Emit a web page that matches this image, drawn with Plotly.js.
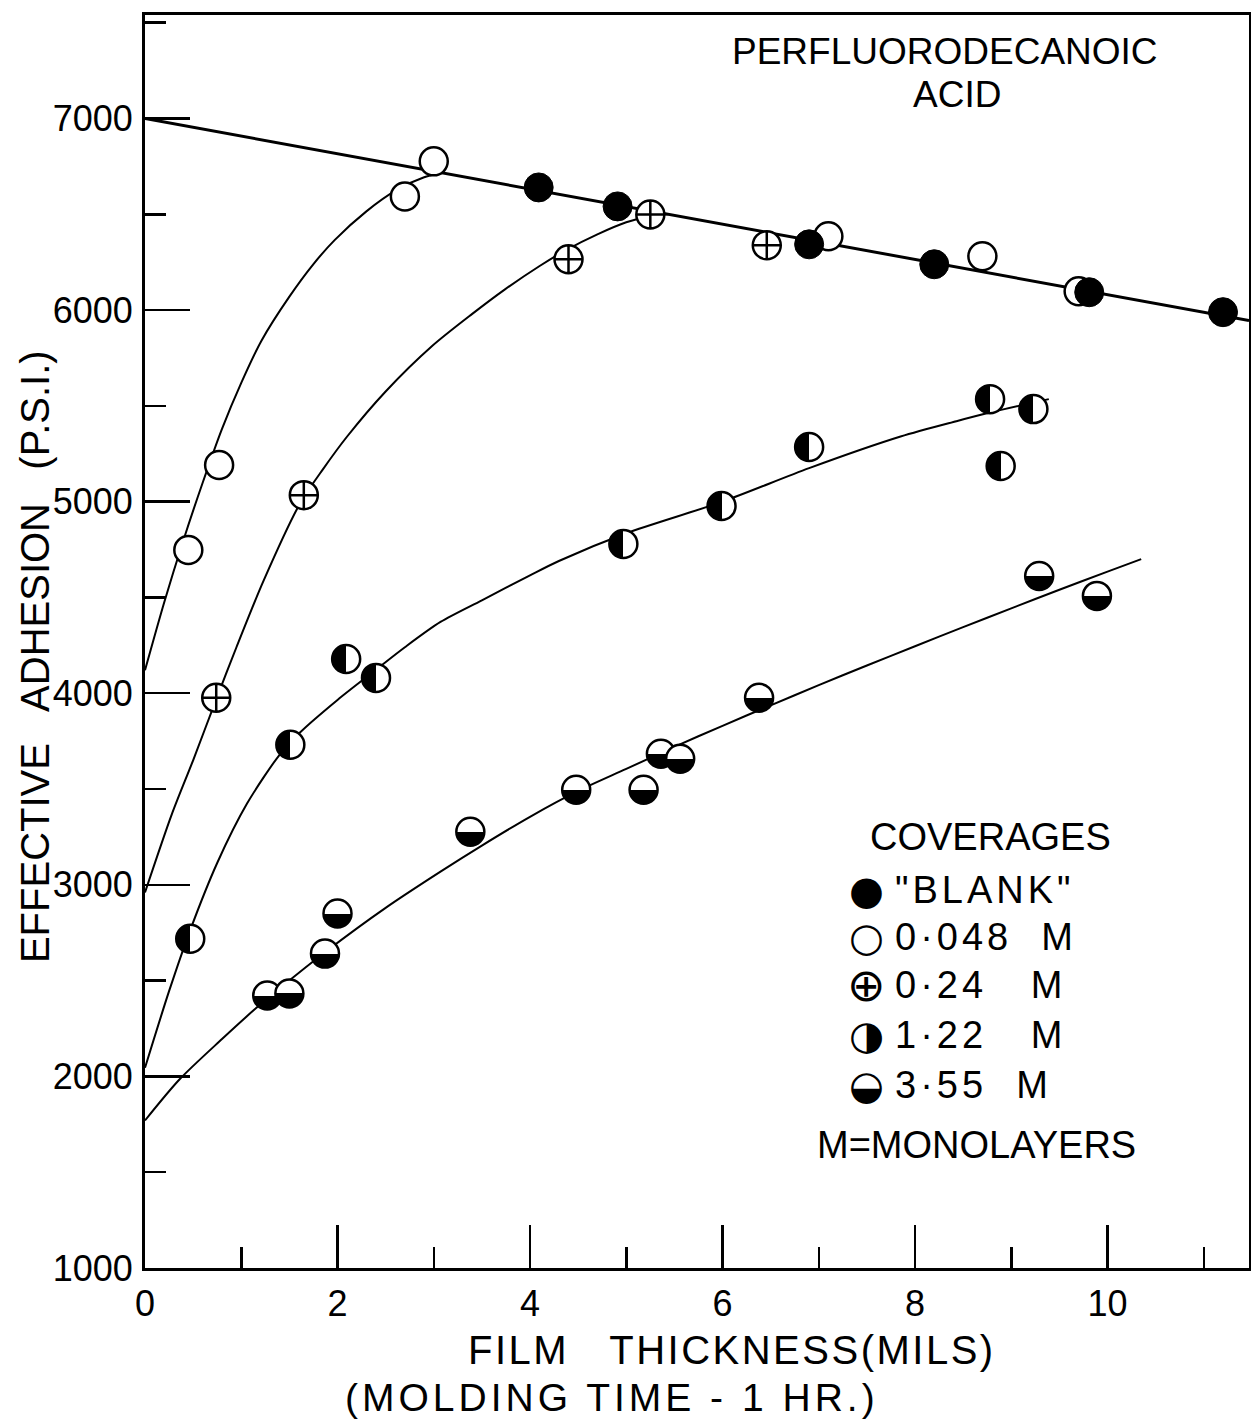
<!DOCTYPE html>
<html><head><meta charset="utf-8">
<script src="https://cdn.plot.ly/plotly-3.0.1.min.js"></script>
<style>body{margin:0;background:#fff}</style>
</head><body>
<div id="chart" style="width:1251px;height:1419px"></div>
<script>
// ---- measured points ----
const blankX = [4.09, 4.91, 6.90, 8.20, 9.81, 11.20];
const blankY = [6640, 6541, 6343, 6239, 6093, 5989];

const m048X = [0.45, 0.77, 2.70, 3.00, 7.10, 8.70, 9.70];
const m048Y = [4748, 5191, 6593, 6776, 6385, 6281, 6098];

const m024X = [0.74, 1.65, 4.40, 5.25, 6.46];
const m024Y = [3976, 5034, 6265, 6499, 6338];

const m122X = [0.47, 1.51, 2.09, 2.40, 4.97, 5.99, 6.90, 8.78, 8.89, 9.23];
const m122Y = [2719, 3731, 4179, 4080, 4779, 4977, 5285, 5535, 5186, 5483];

const m355X = [1.27, 1.50, 1.87, 2.00, 3.38, 4.48, 5.18, 5.36, 5.56, 6.38, 9.29, 9.89];
const m355Y = [2422, 2433, 2641, 2850, 3277, 3496, 3496, 3684, 3658, 3976, 4612, 4508];

// ---- hand-drawn curves ----
const blankLineX = [0, 11.47];
const blankLineY = [7000, 5945];

const c048X = [0, 0.20, 0.40, 0.60, 0.80, 1.00, 1.21, 1.50, 1.75, 1.97, 2.30, 2.62, 2.90, 3.10];
const c048Y = [4120, 4475, 4800, 5100, 5380, 5620, 5840, 6070, 6240, 6365, 6515, 6628, 6693, 6718];

const c024X = [0, 0.28, 0.50, 0.73, 0.95, 1.23, 1.61, 1.85, 2.10, 2.50, 2.98, 3.40, 3.74, 4.10, 4.39, 4.70, 5.00, 5.25, 5.44];
const c024Y = [2960, 3370, 3650, 3955, 4240, 4585, 4990, 5170, 5340, 5575, 5811, 5980, 6108, 6230, 6317, 6395, 6458, 6490, 6500];

const c122X = [0, 0.25, 0.47, 0.75, 1.06, 1.40, 1.61, 2.00, 2.37, 2.70, 3.07, 3.50, 4.00, 4.30, 5.00, 6.00, 6.90, 7.85, 8.43, 8.78, 9.39];
const c122Y = [2045, 2445, 2764, 3114, 3424, 3680, 3795, 3965, 4111, 4240, 4372, 4485, 4615, 4690, 4835, 5000, 5175, 5340, 5420, 5465, 5535];

const c355X = [0, 0.36, 0.80, 1.14, 1.40, 1.88, 2.50, 3.07, 3.50, 4.00, 4.50, 5.00, 5.50, 6.00, 6.50, 7.00, 7.50, 8.00, 8.50, 9.00, 9.50, 10.00, 10.35];
const c355Y = [1770, 1985, 2195, 2350, 2460, 2652, 2880, 3069, 3205, 3355, 3490, 3605, 3720, 3830, 3937, 4042, 4145, 4245, 4345, 4443, 4540, 4635, 4700];

// ---- text ----
const xTickVals = [0, 2, 4, 6, 8, 10];
const yTickVals = [1000, 2000, 3000, 4000, 5000, 6000, 7000];
const legendTitle = 'COVERAGES';
const legendLabels = ['"BLANK"', '0·048\u00a0 M', '0·24\u00a0\u00a0 M', '1·22\u00a0\u00a0 M', '3·55\u00a0 M'];
const legendGlyphs = ['\u25CF', '\u25CB', '\u2295', '\u25D1', '\u25D2'];

const FONT = 'Liberation Sans, Arial, sans-serif';
const GLYPHFONT = 'DejaVu Sans, sans-serif';

function curve(x, y, w) {
  return {x: x, y: y, type: 'scatter', mode: 'lines', line: {color: 'black', width: w, shape: 'spline', smoothing: 0.8}, hoverinfo: 'skip'};
}

const traces = [
  curve(blankLineX, blankLineY, 3),
  curve(c048X, c048Y, 2),
  curve(c024X, c024Y, 2),
  curve(c122X, c122Y, 2),
  curve(c355X, c355Y, 2),
  {x: m048X, y: m048Y, type: 'scatter', mode: 'markers', name: '0.048 M',
   marker: {symbol: 'circle', size: 28, color: 'white', line: {color: 'black', width: 2.5}}},
  {x: m024X, y: m024Y, type: 'scatter', mode: 'markers', name: '0.24 M',
   marker: {symbol: 'circle-cross', size: 28, color: 'white', line: {color: 'black', width: 2.5}}},
  {x: blankX, y: blankY, type: 'scatter', mode: 'markers', name: 'BLANK',
   marker: {symbol: 'circle', size: 29, color: 'black', line: {color: 'black', width: 1}}},
  {x: m122X, y: m122Y, type: 'scatter', mode: 'markers', name: '1.22 M',
   marker: {symbol: 'circle', size: 28, color: 'black', gradient: {type: 'horizontal', color: 'white'},
            line: {color: 'black', width: 2.5}}},
  {x: m355X, y: m355Y, type: 'scatter', mode: 'markers', name: '3.55 M',
   marker: {symbol: 'circle', size: 28, color: 'white', gradient: {type: 'vertical', color: 'black'},
            line: {color: 'black', width: 2.5}}}
];

function ann(text, x, y, size, xanchor, extra) {
  return Object.assign({text: text, x: x, y: y, xref: 'paper', yref: 'paper', showarrow: false,
    xanchor: xanchor || 'center', yanchor: 'middle', font: {family: FONT, size: size, color: 'black'}}, extra || {});
}
function spaced(t, px) { return '<span style="letter-spacing:' + px + 'px">' + t + '</span>'; }

const rowsY = [0.3017, 0.2642, 0.2259, 0.186, 0.146];
const annotations = [
  ann('PERFLUORODECANOIC', 0.7246, 0.9705, 37),
  ann('ACID', 0.7355, 0.9362, 37),
  ann(legendTitle, 0.7654, 0.344, 38),
  ann('M=MONOLAYERS', 0.7536, 0.0982, 38),
  ann(spaced('FILM\u00a0\u00a0 THICKNESS(MILS)', 2.5), 0.5317, -0.0654, 40),
  ann(spaced('(MOLDING TIME - 1 HR.)', 4), 0.423, -0.103, 39),
  ann('EFFECTIVE\u00a0\u00a0 ADHESION\u00a0\u00a0 (P.S.I.)', -0.0996, 0.4876, 40, 'center', {textangle: -90})
];
legendLabels.forEach((t, i) => {
  annotations.push(ann(legendGlyphs[i], 0.6531, rowsY[i], 40, 'center', {font: {family: GLYPHFONT, size: i === 2 ? 46 : 40, color: 'black'}}));
  annotations.push(ann(spaced(t, 4), 0.6775, rowsY[i], 38, 'left'));
});

const layout = {
  width: 1251, height: 1419,
  margin: {l: 145, r: 2, t: 15, b: 151},
  paper_bgcolor: 'white', plot_bgcolor: 'white',
  showlegend: false,
  font: {family: FONT, color: 'black'},
  xaxis: {
    range: [0, 11.47], tickvals: xTickVals, ticktext: xTickVals.map(String),
    ticks: 'inside', ticklen: 43, tickwidth: 2.5, tickcolor: 'black',
    minor: {dtick: 1, tick0: 0, ticks: 'inside', ticklen: 21, tickwidth: 2.5, tickcolor: 'black', showgrid: false},
    showline: true, linewidth: 3, linecolor: 'black', mirror: true,
    showgrid: false, zeroline: false, ticklabelstandoff: 2,
    tickfont: {family: FONT, size: 36, color: 'black'}
  },
  yaxis: {
    range: [1000, 7540], tickvals: yTickVals, ticktext: yTickVals.map(String),
    ticks: 'inside', ticklen: 45, tickwidth: 2.5, tickcolor: 'black',
    minor: {dtick: 500, tick0: 1000, ticks: 'inside', ticklen: 21, tickwidth: 2.5, tickcolor: 'black', showgrid: false},
    showline: true, linewidth: 3, linecolor: 'black', mirror: true,
    showgrid: false, zeroline: false, ticklabelstandoff: 2,
    tickfont: {family: FONT, size: 36, color: 'black'}
  },
  annotations: annotations
};

// Turn the two-colour marker gradients into a sharp half/half split.
function hardenGradients() {
  document.querySelectorAll('#chart linearGradient').forEach(function (g) {
    var stops = g.querySelectorAll('stop');
    if (stops.length !== 2) return;
    var a = stops[0], b = stops[1];
    var a2 = a.cloneNode(true); a2.setAttribute('offset', '50%');
    var b2 = b.cloneNode(true); b2.setAttribute('offset', '50%');
    g.insertBefore(a2, b);
    g.insertBefore(b2, b);
  });
}

Plotly.newPlot('chart', traces, layout, {staticPlot: true, displayModeBar: false}).then(hardenGradients);
</script>
</body></html>
